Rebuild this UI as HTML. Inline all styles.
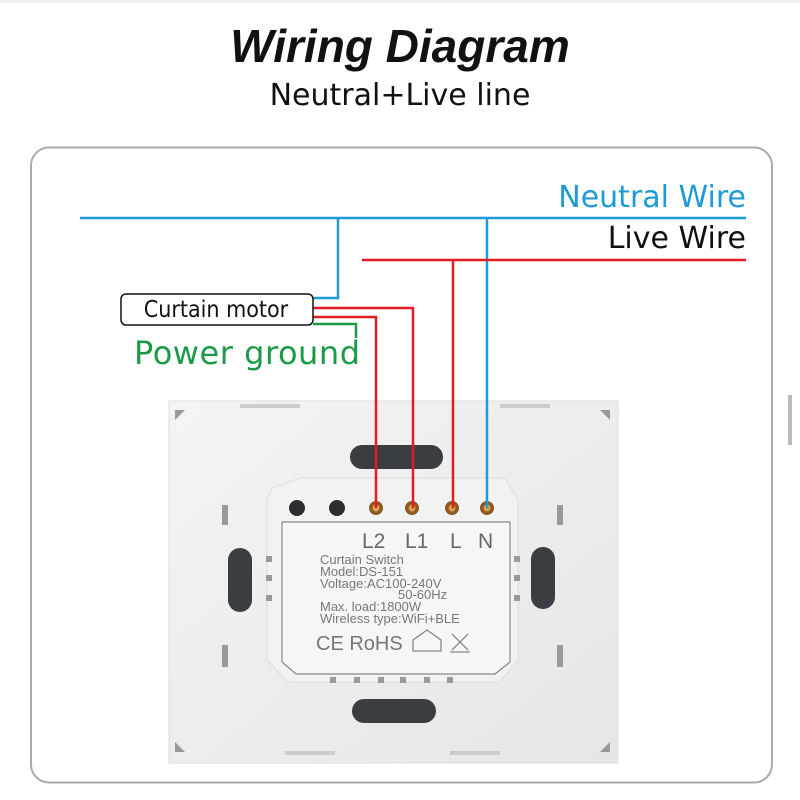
<!DOCTYPE html>
<html><head><meta charset="utf-8"><style>
html,body{margin:0;padding:0;background:#fff;}
svg{display:block}
</style></head><body>
<svg width="800" height="800" viewBox="0 0 800 800" xmlns="http://www.w3.org/2000/svg">
<rect x="0" y="0" width="800" height="3" fill="#eee"/>
<text x="400" y="62" text-anchor="middle" font-family="Liberation Sans, sans-serif" font-size="46" font-weight="bold" font-style="italic" fill="#111">Wiring Diagram</text>
<text x="400" y="105" text-anchor="middle" font-family="DejaVu Sans, sans-serif" font-size="30" fill="#111">Neutral+Live line</text>
<rect x="31" y="147.5" width="741" height="635" rx="18" fill="#fff" stroke="#aaa" stroke-width="2"/>
<defs>
<linearGradient id="pg" x1="0" y1="0" x2="1" y2="1"><stop offset="0" stop-color="#f4f4f4"/><stop offset="1" stop-color="#e6e6e6"/></linearGradient>
</defs>
<rect x="169" y="401" width="449" height="362" fill="url(#pg)" stroke="#ddd"/>
<path d="M175 410 L185 410 L175 420Z M610 410 L600 410 L610 420Z M175 752 L185 752 L175 742Z M610 752 L600 752 L610 742Z" fill="#999"/>
<rect x="240" y="404" width="60" height="4" fill="#ccc"/><rect x="500" y="404" width="50" height="4" fill="#ccc"/>
<rect x="285" y="751" width="50" height="4" fill="#ccc"/><rect x="450" y="751" width="50" height="4" fill="#ccc"/>
<rect x="350" y="445" width="93" height="24" rx="12" fill="#3a3d42"/>
<rect x="352" y="699" width="84" height="24" rx="12" fill="#3a3d42"/>
<rect x="228" y="548" width="24" height="64" rx="12" fill="#3a3d42"/>
<rect x="531" y="547" width="24" height="62" rx="12" fill="#3a3d42"/>
<rect x="222" y="505" width="6" height="20" fill="#999"/><rect x="222" y="645" width="6" height="22" fill="#999"/>
<rect x="557" y="505" width="6" height="20" fill="#999"/><rect x="557" y="645" width="6" height="22" fill="#999"/>
<path d="M272 488 L300 478 L505 478 L518 500 L518 660 L500 682 L288 682 L267 660 L267 500Z" fill="#f2f2f2" stroke="#ddd"/>
<path d="M282 522 L510 522 L510 662 L495 674 L296 674 L282 662Z" fill="#f6f6f6" stroke="#888" stroke-width="1.2"/>
<g fill="#999"><rect x="266" y="556" width="6" height="6"/><rect x="266" y="575" width="6" height="6"/><rect x="266" y="595" width="6" height="6"/>
<rect x="514" y="556" width="6" height="6"/><rect x="514" y="575" width="6" height="6"/><rect x="514" y="595" width="6" height="6"/>
<rect x="330" y="677" width="6" height="6"/><rect x="354" y="677" width="6" height="6"/><rect x="378" y="677" width="6" height="6"/><rect x="400" y="677" width="6" height="6"/><rect x="424" y="677" width="6" height="6"/><rect x="447" y="677" width="6" height="6"/></g>
<g><circle cx="297" cy="508" r="8" fill="#2b2d30"/><circle cx="337" cy="508" r="8" fill="#2b2d30"/>
<circle cx="376" cy="508" r="7" fill="#8a5a20"/><circle cx="412" cy="508" r="7" fill="#8a5a20"/><circle cx="452" cy="508" r="7" fill="#8a5a20"/><circle cx="487" cy="508" r="7" fill="#8a5a20"/>
<circle cx="376" cy="508" r="3.5" fill="#d8a050"/><circle cx="412" cy="508" r="3.5" fill="#d8a050"/><circle cx="452" cy="508" r="3.5" fill="#d8a050"/><circle cx="487" cy="508" r="3.5" fill="#d8a050"/></g>
<text x="362" y="548" font-family="Liberation Sans, sans-serif" font-size="21" fill="#666">L2</text>
<text x="405" y="548" font-family="Liberation Sans, sans-serif" font-size="21" fill="#666">L1</text>
<text x="450" y="548" font-family="Liberation Sans, sans-serif" font-size="21" fill="#666">L</text>
<text x="478" y="548" font-family="Liberation Sans, sans-serif" font-size="21" fill="#666">N</text>
<g font-family="Liberation Sans, sans-serif" font-size="13" fill="#777">
<text x="320" y="564">Curtain Switch</text>
<text x="320" y="576">Model:DS-151</text>
<text x="320" y="588">Voltage:AC100-240V</text>
<text x="398" y="599">50-60Hz</text>
<text x="320" y="611">Max. load:1800W</text>
<text x="320" y="623">Wireless type:WiFi+BLE</text>
</g>
<text x="316" y="650" font-family="Liberation Sans, sans-serif" font-size="20" fill="#777">CE RoHS</text>
<path d="M413 651 L413 640 L427 630 L441 640 L441 651Z" fill="none" stroke="#888" stroke-width="1.3"/>
<path d="M452 634 L468 650 M468 634 L452 650 M450 652 L470 652" stroke="#888" stroke-width="1.3"/>
<g fill="none" stroke-width="2.5">
<path d="M80 218 H746" stroke="#1e9ad6"/>
<path d="M338 218 V298 H313" stroke="#1e9ad6"/>
<path d="M487 218 V508" stroke="#1e9ad6"/>
<path d="M362 260 H746" stroke="#e31b23"/>
<path d="M453 260 V508" stroke="#e31b23"/>
<path d="M313 308 H413 V508" stroke="#e31b23"/>
<path d="M313 317 H376 V508" stroke="#e31b23"/>
<path d="M313 324 H356 V338" stroke="#1b9a48"/>
</g>
<rect x="121" y="294" width="192" height="31" rx="5" fill="#fff" stroke="#111" stroke-width="1.5"/>
<text x="216" y="317" text-anchor="middle" font-family="DejaVu Sans Condensed, DejaVu Sans, sans-serif" font-size="23" fill="#111">Curtain motor</text>
<text x="134" y="364" font-family="DejaVu Sans, sans-serif" font-size="32" textLength="226" fill="#1b9a48">Power ground</text>
<text x="746" y="207" text-anchor="end" font-family="DejaVu Sans, sans-serif" font-size="30" fill="#1e9ad6">Neutral Wire</text>
<text x="746" y="248" text-anchor="end" font-family="DejaVu Sans, sans-serif" font-size="30" fill="#111">Live Wire</text>
<rect x="788" y="395" width="4" height="50" fill="#bbb"/>
</svg>
</body></html>
